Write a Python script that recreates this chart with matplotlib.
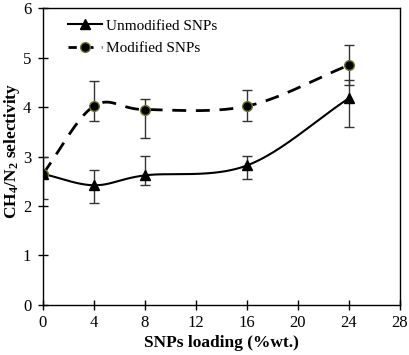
import numpy as np
import matplotlib.pyplot as plt

plt.rcParams['font.family'] = ['Liberation Serif', 'DejaVu Serif']
plt.rcParams['mathtext.fontset'] = 'custom'
plt.rcParams['mathtext.rm'] = 'Liberation Serif'
plt.rcParams['mathtext.bf'] = 'Liberation Serif:bold'

loading = [0, 4, 8, 16, 24]
unmod = [2.65, 2.42, 2.62, 2.82, 4.18]
unmod_lo = [0.5, 0.36, 0.2, 0.27, 0.58]
unmod_hi = [0.35, 0.3, 0.4, 0.2, 0.37]
mod = [2.65, 4.02, 3.95, 4.02, 4.85]
mod_lo = [0.0, 0.3, 0.58, 0.3, 0.4]
mod_hi = [0.0, 0.5, 0.21, 0.32, 0.4]


def smooth(x, y, n=40):
    # Catmull-Rom style smoothing like spreadsheet "smoothed line"
    x = np.asarray(x, float)
    y = np.asarray(y, float)
    px = np.concatenate([[2 * x[0] - x[1]], x, [2 * x[-1] - x[-2]]])
    py = np.concatenate([[2 * y[0] - y[1]], y, [2 * y[-1] - y[-2]]])
    xs, ys = [], []
    t = np.linspace(0, 1, n)
    for i in range(1, len(px) - 2):
        p0, p1, p2, p3 = [np.array([px[j], py[j]]) for j in range(i - 1, i + 3)]
        m1 = (p2 - p0) / 6
        m2 = (p3 - p1) / 6
        c1 = p1 + m1
        c2 = p2 - m2
        pts = ((1 - t) ** 3)[:, None] * p1 + (3 * (1 - t) ** 2 * t)[:, None] * c1 \
            + (3 * (1 - t) * t ** 2)[:, None] * c2 + (t ** 3)[:, None] * p2
        xs.extend(pts[:, 0])
        ys.extend(pts[:, 1])
    return xs, ys


fig = plt.figure(figsize=(4.09, 3.55), dpi=100)
ax = fig.add_axes([0.105, 0.141, 0.873, 0.836])

sx, sy = smooth(loading, unmod)
ax.plot(sx, sy, color='black', lw=1.5)
sx, sy = smooth(loading, mod)
ax.plot(sx, sy, color='black', lw=2, dashes=(5, 3.5))

ax.errorbar(loading, unmod, yerr=[unmod_lo, unmod_hi], fmt='none', ecolor='#333333',
            elinewidth=1, capsize=3.5)
ax.errorbar(loading, mod, yerr=[mod_lo, mod_hi], fmt='none', ecolor='#333333',
            elinewidth=1, capsize=3.5)

ax.plot(loading, mod, 'o', color='black', markersize=7, markeredgecolor='#6b7a2a',
        markeredgewidth=1)
ax.plot(loading, unmod, '^', color='black', markersize=7)

h1, = ax.plot([], [], color='black', lw=1.5, marker='^', markersize=7)
h2, = ax.plot([], [], color='black', lw=2, dashes=(3, 3), marker='o', markersize=7,
              markeredgecolor='#6b7a2a')
ax.legend([h1, h2], ['Unmodified SNPs', 'Modified SNPs'], loc='upper left',
          frameon=False, fontsize=11, handlelength=2.2, handletextpad=0.3,
          borderaxespad=0.3, labelspacing=0.6, bbox_to_anchor=(0.04, 1.0))

ax.set_xlim(0, 28)
ax.set_ylim(0, 6)
ax.set_xticks(range(0, 29, 4))
ax.set_yticks(range(0, 7))
ax.tick_params(direction='inout', length=7, labelsize=12, width=1)
ax.tick_params(axis='y', pad=5)
ax.set_xlabel('SNPs loading (%wt.)', fontsize=12.5, fontweight='bold', labelpad=3)
ax.set_ylabel(r'$\mathbf{CH_4/N_2}$ selectivity', fontsize=12.5, fontweight='bold')
ax.yaxis.set_label_coords(-0.06, 0.52)
for s in ax.spines.values():
    s.set_linewidth(1)

fig.savefig('out.png', dpi=100)
